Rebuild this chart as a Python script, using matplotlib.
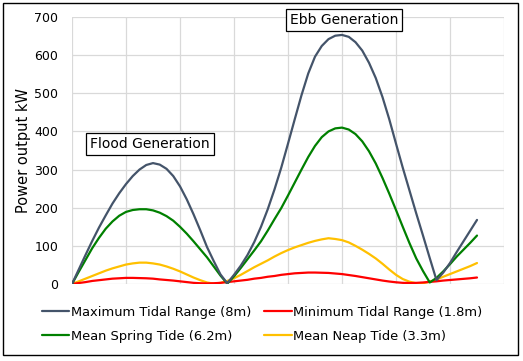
import matplotlib
matplotlib.use("Agg")
import matplotlib.pyplot as plt
from matplotlib.patches import Rectangle

# time in gridline units, sampled every eighth
time = [i / 8 for i in range(61)]

max_tidal = [0, 38, 76, 113, 148, 180, 211, 238, 262, 283, 300, 312,
             317, 313, 302, 283, 256, 222, 183, 141, 97, 60, 25, 2,
             24, 48, 76, 110, 150, 196, 248, 305, 368, 432, 495, 552,
             596, 624, 642, 651, 653, 648, 634, 612, 580, 540, 490, 432,
             368, 305, 245, 185, 127, 68, 10, 30, 55, 84, 112, 140, 168]
min_tidal = [0, 2.5, 5, 8, 10, 12, 14, 15, 16, 16, 15.5, 15,
             14, 12, 10.5, 9, 7, 5, 3, 2, 1.5, 2, 3, 5,
             7, 9, 11, 14, 16, 19, 21, 24, 26, 28, 29, 30,
             30, 29.5, 29, 27.5, 26, 23.5, 21, 18, 15, 12, 9, 6.5,
             4.5, 3, 2.5, 3, 4, 5.5, 7, 9, 10.5, 12, 13.5, 15, 17]
spring = [0, 32, 63, 94, 121, 145, 164, 179, 189, 194, 196, 196,
          193, 187, 178, 166, 150, 132, 112, 91, 70, 46, 22, 1,
          20, 42, 65, 88, 112, 140, 170, 199, 232, 266, 300, 333,
          362, 385, 400, 408, 410, 405, 393, 374, 348, 316, 278, 237,
          194, 150, 107, 67, 34, 4, 16, 33, 52, 72, 90, 108, 127]
neap = [0, 7, 14, 21, 28, 35, 41, 46, 51, 54, 56, 56,
        54, 51, 46, 40, 33, 25, 17, 10, 4, 1, 3, 8,
        15, 24, 34, 44, 53, 62, 72, 81, 89, 96, 102, 108,
        113, 117, 120, 118, 115, 109, 100, 90, 79, 67, 53, 38,
        24, 13, 6, 2, 2, 6, 12, 19, 26, 33, 40, 47, 55]

series = [
    ("Maximum Tidal Range (8m)", max_tidal, "#44546A"),
    ("Minimum Tidal Range (1.8m)", min_tidal, "#FF0000"),
    ("Mean Spring Tide (6.2m)", spring, "#008000"),
    ("Mean Neap Tide (3.3m)", neap, "#FFC000"),
]

y_ticks = [0, 100, 200, 300, 400, 500, 600, 700]

plt.rcParams['font.family'] = ['DejaVu Sans']

W, H = 523, 361
fig = plt.figure(figsize=(W / 100, H / 100), dpi=100)
fig.patch.set_facecolor("white")

ax = fig.add_axes([72 / W, 1 - 284 / H, 432 / W, 267 / H])
ax.set_xlim(0, 8)
ax.set_ylim(0, 700)
ax.set_xticks(range(0, 9))
ax.set_xticklabels([])
ax.set_yticks(y_ticks)
ax.set_yticklabels([str(v) for v in y_ticks], fontsize=9, color="#000000")
ax.tick_params(axis="both", length=0, pad=10)
for s in ax.spines.values():
    s.set_visible(False)
ax.grid(True, color="#D9D9D9", lw=0.9)
ax.set_axisbelow(True)

handles = {}
for i in [3, 1, 2, 0]:
    name, vals, col = series[i]
    ln, = ax.plot(time, vals, color=col, lw=1.6, solid_joinstyle="round",
                  solid_capstyle="round", label=name)
    handles[i] = ln

ax.set_ylabel("Power output kW", fontsize=10.5)
ax.yaxis.set_label_coords((31 - 72) / 432, 0.5)

leg = fig.legend([handles[0], handles[2], handles[1], handles[3]],
                 [series[0][0], series[2][0], series[1][0], series[3][0]],
                 ncol=2, loc="center", bbox_to_anchor=(262 / W, 1 - 324.5 / H),
                 frameon=False, fontsize=9.4, handlelength=2.1,
                 handletextpad=0.1, columnspacing=1.0, labelspacing=0.85)

box = dict(boxstyle="square,pad=0.3", fc="white", ec="black", lw=0.9)
fig.text(150 / W, 1 - 144 / H, "Flood Generation", fontsize=10,
         ha="center", va="center", bbox=box)
fig.text(344 / W, 1 - 20 / H, "Ebb Generation", fontsize=10,
         ha="center", va="center", bbox=box)

fig.patches.append(Rectangle((3 / W, 1 - 355 / H), 515 / W, 352 / H,
                             transform=fig.transFigure, fill=False,
                             ec="black", lw=1.0))

fig.savefig("out.png", dpi=100, facecolor="white")
